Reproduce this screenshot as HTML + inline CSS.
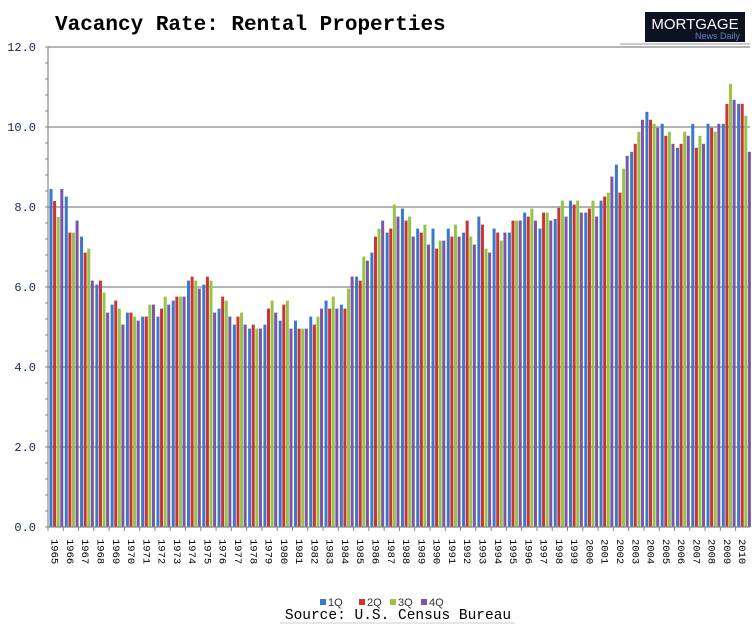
<!DOCTYPE html>
<html><head><meta charset="utf-8"><style>
body{margin:0;background:#fff;}
svg{display:block;font-family:"Liberation Mono",monospace;}
</style></head><body>
<svg id="chart" width="756" height="628" viewBox="0 0 756 628" xmlns="http://www.w3.org/2000/svg">
<text x="55" y="30" font-size="21" font-weight="bold" fill="#000">Vacancy Rate: Rental Properties</text>
<g>
<rect x="645" y="12" width="100" height="30" fill="#0d1220"/>
<text x="695" y="29" font-family="Liberation Sans,sans-serif" font-size="15" fill="#fff" text-anchor="middle">MORTGAGE</text>
<text x="740" y="39" font-family="Liberation Sans,sans-serif" font-size="9" fill="#5b84c8" text-anchor="end">News Daily</text>
</g>
<line x1="620" y1="44" x2="750" y2="44" stroke="#999" stroke-width="1"/>
<g id="grid"></g><g id="bars"></g><g id="axes"></g>
<g font-family="Liberation Sans,sans-serif" font-size="11" fill="#333">
<g><rect x="320" y="599" width="6" height="6" fill="#3a78c9"/><text x="328" y="606">1Q</text></g>
<g><rect x="359" y="599" width="6" height="6" fill="#cc3333"/><text x="367" y="606">2Q</text></g>
<g><rect x="390" y="599" width="6" height="6" fill="#96c448"/><text x="398" y="606">3Q</text></g>
<g><rect x="421" y="599" width="6" height="6" fill="#7a55a8"/><text x="429" y="606">4Q</text></g>
</g>
<text x="398" y="619" font-size="14.5" text-anchor="middle" fill="#000">Source: U.S. Census Bureau</text>
<line x1="280" y1="623" x2="515" y2="623" stroke="#ccc"/>
</svg>
<script>
const years=[1965,1966,1967,1968,1969,1970,1971,1972,1973,1974,1975,1976,1977,1978,1979,1980,1981,1982,1983,1984,1985,1986,1987,1988,1989,1990,1991,1992,1993,1994,1995,1996,1997,1998,1999,2000,2001,2002,2003,2004,2005,2006,2007,2008,2009,2010];
const q1=[8.45,8.26,7.26,6.06,5.56,5.36,5.26,5.26,5.66,6.16,6.06,5.46,5.06,4.96,5.06,5.16,5.16,5.26,5.66,5.56,6.26,6.86,7.36,7.96,7.46,7.46,7.46,7.36,7.76,7.46,7.36,7.86,7.46,7.7,8.16,7.86,8.16,9.06,9.38,10.38,10.08,9.48,10.08,10.08,10.08,10.58];
const q2=[8.15,7.36,6.86,6.16,5.66,5.36,5.26,5.46,5.76,6.26,6.26,5.76,5.26,5.06,5.46,5.56,4.96,5.06,5.46,5.46,6.16,7.26,7.46,7.66,7.36,6.96,7.26,7.66,7.56,7.36,7.66,7.76,7.86,7.98,8.06,7.96,8.26,8.36,9.58,10.18,9.78,9.58,9.48,9.98,10.58,10.58];
const q3=[7.75,7.36,6.96,5.86,5.46,5.26,5.56,5.76,5.76,6.16,6.16,5.66,5.36,4.96,5.66,5.66,4.96,5.26,5.76,5.96,6.76,7.46,8.06,7.76,7.56,7.16,7.56,7.26,6.96,7.16,7.66,7.96,7.86,8.16,8.16,8.16,8.36,8.96,9.88,10.08,9.88,9.88,9.78,9.88,11.08,10.28];
const q4=[8.45,7.66,6.16,5.36,5.06,5.16,5.56,5.56,5.76,5.96,5.36,5.26,5.06,4.96,5.36,4.96,4.96,5.46,5.46,6.26,6.66,7.66,7.76,7.26,7.06,7.16,7.26,7.06,6.86,7.36,7.66,7.66,7.66,7.76,7.86,7.76,8.76,9.28,10.18,9.98,9.58,9.78,9.58,10.08,10.68,9.38];
const yTicks=[0,2,4,6,8,10,12];
const series=[q1,q2,q3,q4];
const colors=['#3a78c9','#cc3333','#96c448','#7a55a8'];
const qn=['q1','q2','q3','q4'];
const NS='http://www.w3.org/2000/svg';
const X0=48,X1=750,Y0=527,Y1=47,YMAX=12,band=15.28;
const y=v=>Y0-(v/YMAX)*(Y0-Y1);
const xb=(i,q)=>X0+1.5+i*band+q*3.6;
function mk(tag,attrs,parent){const e=document.createElementNS(NS,tag);for(const k in attrs)e.setAttribute(k,attrs[k]);parent.appendChild(e);return e;}
const grid=document.getElementById('grid'),bars=document.getElementById('bars'),axes=document.getElementById('axes');
yTicks.forEach(t=>{
 if(t>0){const g=mk('line',{x1:X0,x2:X1,y1:y(t),y2:y(t),stroke:'#888','stroke-width':1.2},grid);
 
 }
 const l=mk('text',{x:36,y:y(t)+4,'font-size':12,'text-anchor':'end',fill:'#1a2a50'},axes);
 l.textContent=t.toFixed(1);
 
 
});
for(let v=0;v<=12.001;v+=0.4){mk('line',{x1:X0-3,x2:X0,y1:y(v),y2:y(v),stroke:'#888'},axes);}
years.forEach((yr,i)=>{
 series.forEach((s,q)=>{
  const r=mk('rect',{x:xb(i,q),y:y(s[i]),width:3,height:Y0-y(s[i]),fill:colors[q]},bars);
  
  
 });
 const tx=X0+i*band;
 mk('line',{x1:tx,x2:tx,y1:Y0,y2:Y0+4,stroke:'#888'},axes);
 const cx=tx+band/2;
 const t=mk('text',{x:0,y:0,'font-size':10.5,fill:'#000',transform:`translate(${cx-4},${539}) rotate(90)`},axes);
 t.textContent=yr;
 
 
});
const ya=mk('line',{x1:X0,x2:X0,y1:Y1,y2:Y0,stroke:'#888','stroke-width':1.2},axes);


const xa=mk('line',{x1:X0,x2:X1,y1:Y0,y2:Y0,stroke:'#888','stroke-width':1.2},axes);


</script>
</body></html>
